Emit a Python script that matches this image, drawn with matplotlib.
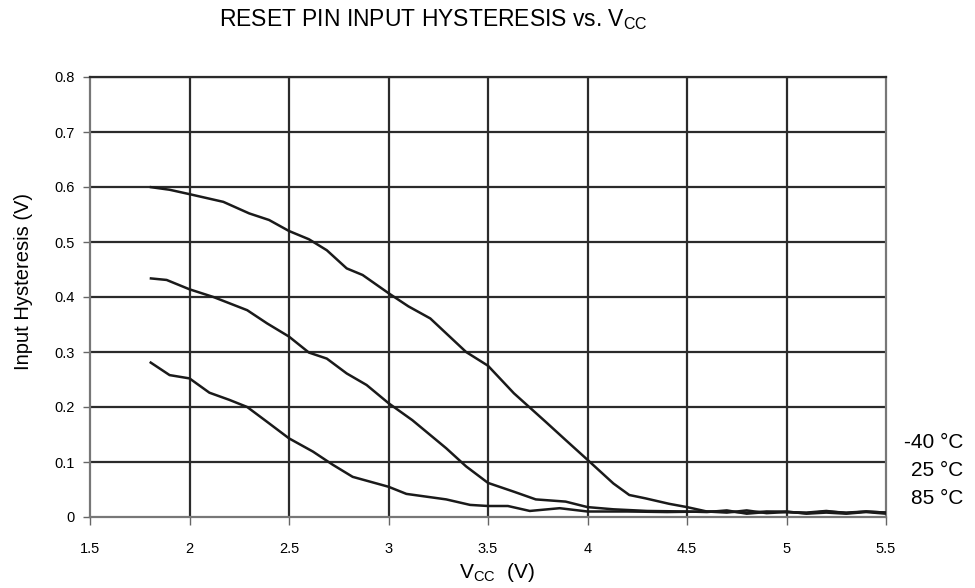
import matplotlib
matplotlib.use("Agg")
import matplotlib.pyplot as plt

plt.rcParams['font.family'] = ['Liberation Sans', 'DejaVu Sans']

v_m40 = [1.8, 1.9, 2.0, 2.17, 2.3, 2.4, 2.5, 2.6, 2.69, 2.79, 2.87, 3.0, 3.1, 3.21, 3.39, 3.5,
         3.63, 3.79, 3.89, 4.0, 4.13, 4.21, 4.29, 4.41, 4.5, 4.6, 4.7, 4.8, 4.9, 5.0, 5.1, 5.2, 5.3, 5.4, 5.5]
h_m40 = [0.600, 0.595, 0.587, 0.573, 0.552, 0.540, 0.520, 0.505, 0.485, 0.452, 0.440, 0.407, 0.383, 0.361, 0.300, 0.275,
         0.225, 0.173, 0.140, 0.104, 0.061, 0.040, 0.034, 0.024, 0.018, 0.010, 0.010, 0.008, 0.010, 0.009, 0.007, 0.010, 0.008, 0.010, 0.008]

v_25 = [1.8, 1.885, 2.0, 2.12, 2.29, 2.39, 2.5, 2.6, 2.69, 2.79, 2.89, 3.0, 3.12, 3.29, 3.39, 3.5,
        3.63, 3.74, 3.89, 4.0, 4.13, 4.3, 4.5, 4.6, 4.7, 4.8, 4.9, 5.0, 5.1, 5.2, 5.3, 5.4, 5.5]
h_25 = [0.434, 0.431, 0.414, 0.400, 0.376, 0.352, 0.328, 0.299, 0.288, 0.261, 0.240, 0.207, 0.176, 0.125, 0.092, 0.062,
        0.046, 0.032, 0.028, 0.018, 0.014, 0.011, 0.010, 0.009, 0.012, 0.006, 0.009, 0.010, 0.006, 0.008, 0.006, 0.009, 0.006]

v_85 = [1.8, 1.9, 2.0, 2.1, 2.2, 2.29, 2.39, 2.5, 2.62, 2.72, 2.82, 3.0, 3.09, 3.29, 3.41, 3.5,
        3.6, 3.71, 3.86, 4.0, 4.2, 4.4, 4.6, 4.7, 4.8, 4.9, 5.0, 5.1, 5.2, 5.3, 5.4, 5.5]
h_85 = [0.282, 0.258, 0.252, 0.226, 0.213, 0.200, 0.173, 0.143, 0.119, 0.095, 0.073, 0.055, 0.042, 0.032, 0.022, 0.020,
        0.020, 0.011, 0.016, 0.010, 0.010, 0.009, 0.010, 0.008, 0.012, 0.007, 0.009, 0.008, 0.011, 0.007, 0.010, 0.008]

x_ticks = [1.5, 2, 2.5, 3, 3.5, 4, 4.5, 5, 5.5]
x_labels = ['1.5', '2', '2.5', '3', '3.5', '4', '4.5', '5', '5.5']
y_ticks = [0, 0.1, 0.2, 0.3, 0.4, 0.5, 0.6, 0.7, 0.8]
y_labels = ['0', '0.1', '0.2', '0.3', '0.4', '0.5', '0.6', '0.7', '0.8']
series_labels = ['-40 °C', '25 °C', '85 °C']

fig = plt.figure(figsize=(9.75, 5.88), dpi=100)
ax = fig.add_axes([90/975, 1-517/588, (886-90)/975, (517-77)/588])

grid_c = '#2b2b2b'
for x in x_ticks[1:-1]:
    ax.axvline(x, color=grid_c, lw=1.6, zorder=1)
for y in y_ticks[1:]:
    ax.axhline(y, color=grid_c, lw=1.6, zorder=1)

for v, h in [(v_m40, h_m40), (v_25, h_25), (v_85, h_85)]:
    ax.plot(v, h, color='#1a1a1a', lw=1.8, zorder=3, solid_capstyle='butt')

ax.set_xlim(1.5, 5.5)
ax.set_ylim(0, 0.8)
ax.set_xticks(x_ticks)
ax.set_xticklabels(x_labels)
ax.set_yticks(y_ticks)
ax.set_yticklabels(y_labels)
ax.tick_params(axis='x', direction='out', length=6, width=1, color='#666666', pad=12, labelsize=10.5)
ax.tick_params(axis='y', direction='out', length=5, width=1, color='#666666', pad=6, labelsize=10.5)
for s in ['left', 'bottom', 'right']:
    ax.spines[s].set_color('#777777')
    ax.spines[s].set_linewidth(1.6)
ax.spines['top'].set_color('#2b2b2b')
ax.spines['top'].set_linewidth(1.6)

fig.text(497/975, 1-572/588, 'V$_{\\mathregular{CC}}$  (V)', fontsize=15, ha='center', va='center')
fig.text(24/975, 1-282/588, 'Input Hysteresis (V)', fontsize=14.5, ha='center', va='center', rotation=90)
fig.text(433/975, 1-20/588, 'RESET PIN INPUT HYSTERESIS vs. V$_{\\mathregular{CC}}$', fontsize=16.5,
         ha='center', va='center')

for lab, yp in zip(series_labels, [443, 471, 499]):
    fig.text(963/975, 1-yp/588, lab, fontsize=15, ha='right', va='center')

fig.savefig('out.png', dpi=100)
